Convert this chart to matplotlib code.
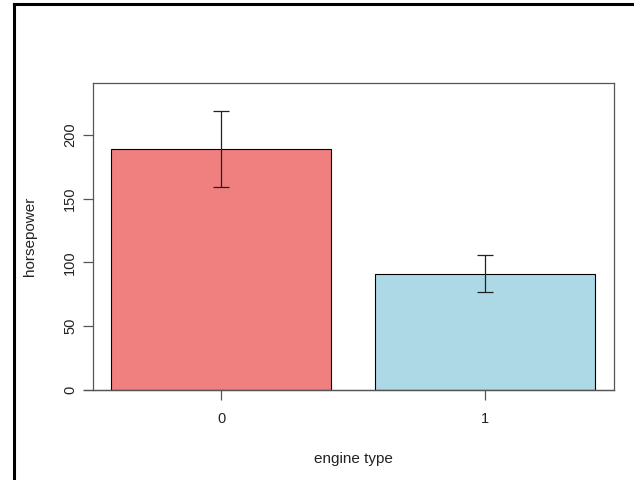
import matplotlib
matplotlib.use("Agg")
import matplotlib.pyplot as plt
from matplotlib.lines import Line2D

# data
engine_types = ["0", "1"]
horsepower_mean = [189.0, 91.2]
err_low = [159.2, 77.1]
err_high = [218.8, 105.6]
bar_colors = ["#F08080", "#ADD8E6"]
y_ticks = [0, 50, 100, 150, 200]

plt.rcParams["font.family"] = ["Liberation Sans", "DejaVu Sans"]

fig = plt.figure(figsize=(6.34, 4.8), dpi=100)
ax = fig.add_axes([0.1467, 0.1875, 0.8218, 0.6402])

x = list(range(len(engine_types)))
ax.bar(x, horsepower_mean, width=0.833, color=bar_colors,
       edgecolor="black", linewidth=0.8, zorder=2)
yerr = [[m - lo for m, lo in zip(horsepower_mean, err_low)],
        [hi - m for m, hi in zip(horsepower_mean, err_high)]]
ax.errorbar(x, horsepower_mean, yerr=yerr, fmt="none", ecolor="#222222",
            elinewidth=0.9, capsize=5.5, capthick=0.9, zorder=3)

ax.set_xlim(-0.485, 1.489)
ax.set_ylim(0, 241)
ax.set_xticks(x)
ax.set_xticklabels(engine_types)
ax.set_yticks(y_ticks)
ax.set_yticklabels([str(t) for t in y_ticks], rotation=90, va="center")

for s in ax.spines.values():
    s.set_color("#555555")
    s.set_linewidth(0.9)
ax.tick_params(axis="both", direction="out", length=7, width=0.9,
               color="#555555", labelsize=10.5, labelcolor="#222222")
ax.tick_params(axis="x", pad=9)
ax.tick_params(axis="y", pad=4.5)

# baseline stretching a bit past the box on the left
ax.add_line(Line2D([-0.017, 1.0], [0, 0], transform=ax.transAxes,
                   color="#555555", linewidth=0.9, clip_on=False))

ax.set_xlabel("engine type", fontsize=11, color="#222222")
ax.set_ylabel("horsepower", fontsize=11, color="#222222")
ax.xaxis.set_label_coords(0.5, -0.201)
ax.yaxis.set_label_coords(-0.107, 0.5)

# dark frame along left and top edges of the screenshot
fig.add_artist(Line2D([14 / 634, 14 / 634], [0, 1 - 4 / 480],
                      transform=fig.transFigure, color="black", linewidth=2.2))
fig.add_artist(Line2D([14 / 634, 1], [1 - 4 / 480, 1 - 4 / 480],
                      transform=fig.transFigure, color="black", linewidth=2.2))

fig.savefig("out.png", dpi=100)
